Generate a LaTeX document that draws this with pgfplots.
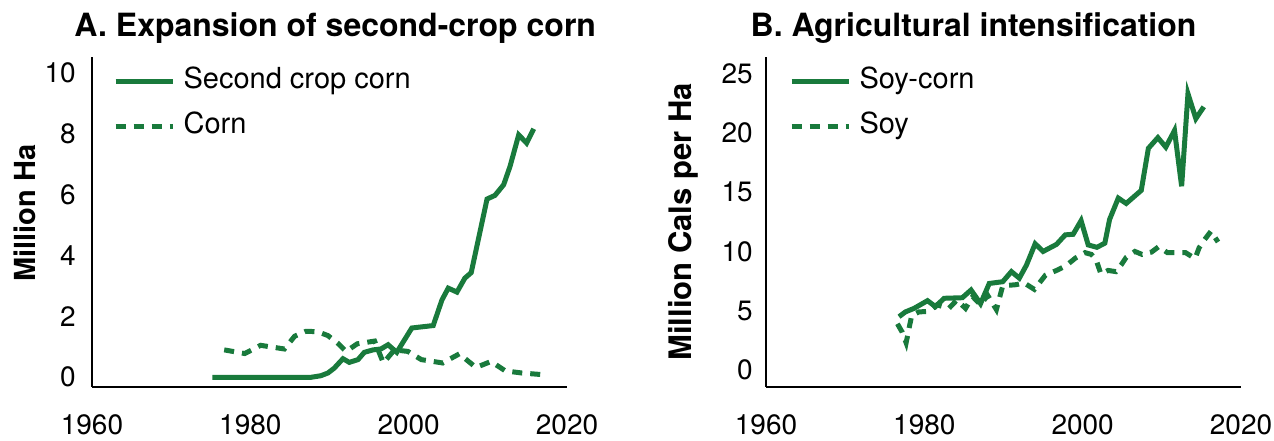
\documentclass[border=0pt]{standalone}
\usepackage{fontspec}
\setmainfont{TeX Gyre Heros}
\usepackage{pgfplots}
\pgfplotsset{compat=1.18}
\definecolor{dgreen}{RGB}{25,122,60}
\begin{document}
\begin{tikzpicture}
\path (0pt,0pt) rectangle (1274pt,441pt);
\pgfplotsset{
  panel/.style={
    scale only axis, width=475pt, height=330pt, anchor=south west,
    xmin=1960, xmax=2020,
    axis x line*=bottom, axis y line*=left,
    axis line style={line width=2pt, black},
    major tick length=0pt,
    xtick={1960,1980,2000,2020},
    /pgf/number format/assume math mode=true,
    /pgf/number format/1000 sep={},
    tick label style={font=\fontsize{28}{28}\selectfont},
    xticklabel style={anchor=base, yshift=-48pt, inner sep=0pt},
    title style={font=\fontsize{32}{32}\selectfont\bfseries, anchor=base, inner sep=0pt},
    ylabel style={anchor=center, inner sep=0pt},
    legend style={draw=none, fill=none, font=\fontsize{29}{29}\selectfont,
      anchor=north west, column sep=8pt, row sep=19pt, inner sep=0pt,
      nodes={inner sep=0pt, text height=20pt, text depth=6pt}},
    legend cell align=left,
    legend image code/.code={\draw[##1] (0pt,0pt) -- (57.5pt,0pt);},
    clip=false,
  },
  solidline/.style={dgreen, line width=5pt, solid},
  dashedline/.style={dgreen, line width=5pt, dash pattern=on 10pt off 8pt},
}
\begin{axis}[panel,
  at={(92pt,54pt)},
  ymin=-0.32, ymax=10.53,
  ytick={0,2,4,6,8,10},
  yticklabel style={anchor=east, inner sep=0pt, xshift=-16pt},
  title={A. Expansion of second-crop corn},
  title style={at={(axis description cs:0.512,1)}, yshift=14pt},
  ylabel={Million Ha},
  ylabel style={font=\fontsize{29}{29}\selectfont\bfseries, at={(axis description cs:-0.141,0.527)}},
  legend style={at={(axis description cs:0.044,0.966)}},
]
\addplot[solidline] coordinates {(1975.2,0) (1987.7,0) (1988.9,0.05) (1989.8,0.14) (1990.6,0.30) (1991.7,0.61) (1992.5,0.49) (1993.6,0.58) (1994.4,0.82) (1995.5,0.90) (1996.5,0.93) (1997.4,1.07) (1998.5,0.82) (2000.4,1.62) (2003.1,1.70) (2004.2,2.54) (2005.0,2.93) (2006.1,2.80) (2007.1,3.26) (2007.9,3.44) (2009.9,5.86) (2010.9,5.98) (2012.0,6.33) (2012.8,6.93) (2013.9,7.97) (2014.9,7.70) (2015.8,8.17)};
\addlegendentry{Second crop corn}
\addplot[dashedline] coordinates {(1976.7,0.90) (1979.3,0.78) (1981.3,1.05) (1984.3,0.93) (1985.6,1.35) (1987.0,1.51) (1988.5,1.50) (1989.8,1.37) (1991.0,1.13) (1992.1,0.85) (1993.5,1.10) (1995.7,1.19) (1996.8,0.47) (1998.2,0.90) (1999.9,0.85) (2001.6,0.58) (2004.3,0.47) (2006.4,0.77) (2008.5,0.32) (2010.4,0.52) (2012.2,0.21) (2014.3,0.14) (2017.2,0.08)};
\addlegendentry{Corn}
\end{axis}
\begin{axis}[panel,
  at={(766pt,54pt)},
  ymin=-1.43, ymax=26.4,
  ytick={0,5,10,15,20,25},
  yticklabel style={anchor=east, inner sep=0pt, xshift=-13pt},
  title={B. Agricultural intensification},
  title style={at={(axis description cs:0.437,1)}, yshift=14pt},
  ylabel={Million Cals per Ha},
  ylabel style={font=\fontsize{31}{31}\selectfont\bfseries, at={(axis description cs:-0.175,0.5)}},
  legend style={at={(axis description cs:0.048,0.966)}},
]
\addplot[solidline] coordinates {(1976.8,4.5) (1977.6,4.9) (1978.7,5.2) (1980.4,5.85) (1981.4,5.35) (1982.5,6.05) (1984.8,6.1) (1985.9,6.75) (1987.1,5.6) (1988.2,7.3) (1989.9,7.45) (1991.0,8.3) (1992.0,7.75) (1992.9,8.85) (1994.0,10.65) (1995.0,10.0) (1996.7,10.6) (1997.8,11.4) (1998.8,11.45) (1999.8,12.6) (2000.7,10.55) (2001.8,10.35) (2002.8,10.7) (2003.4,12.7) (2004.5,14.5) (2005.5,14.05) (2007.4,15.15) (2008.3,18.7) (2009.5,19.6) (2010.5,18.8) (2011.6,20.2) (2012.5,15.5) (2013.3,23.3) (2014.3,21.2) (2015.3,22.2)};
\addlegendentry{Soy-corn}
\addplot[dashedline] coordinates {(1976.6,3.9) (1977.2,3.2) (1977.7,2.3) (1978.4,4.6) (1979.3,4.9) (1980.6,4.95) (1981.6,5.5) (1983.1,5.2) (1984.1,5.9) (1985.2,5.2) (1986.1,6.2) (1987.1,5.5) (1988.0,6.3) (1989.1,5.1) (1989.9,7.1) (1991.6,7.2) (1992.6,7.35) (1993.9,6.8) (1995.3,8.0) (1996.7,8.4) (1997.9,8.8) (1999.1,9.45) (2000.3,9.9) (2001.1,9.75) (2001.7,9.3) (2002.3,8.1) (2003.2,8.4) (2004.2,8.3) (2004.9,8.9) (2005.5,9.5) (2006.6,10.0) (2007.5,9.75) (2008.7,9.95) (2009.6,10.4) (2010.7,9.9) (2013.0,9.9) (2014.2,9.4) (2014.7,10.3) (2015.4,11.0) (2016.2,11.7) (2017.1,10.8)};
\addlegendentry{Soy}
\end{axis}
\end{tikzpicture}
\end{document}
